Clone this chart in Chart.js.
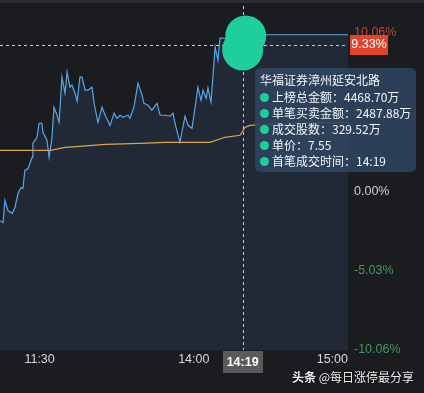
<!DOCTYPE html>
<html>
<head>
<meta charset="utf-8">
<script src="https://cdn.jsdelivr.net/npm/chart.js@4"></script>
<style>
  html, body { margin: 0; padding: 0; background: #1b1c20; }
  #wrap { position: relative; width: 424px; height: 393px; overflow: hidden; }
  #topbar { position: absolute; left: 0; top: 0; width: 424px; height: 3px; background: #2a2c31; }
  #tip {
    position: absolute; box-sizing: border-box; width: 161px;
    background: rgba(47, 68, 95, 0.9); border-radius: 5px;
    padding: 4px 5px 3px 5px; color: #f4f6f8;
    font: 12px "Noto Sans CJK SC", sans-serif; line-height: 16px; white-space: nowrap;
  }
  #tip .title { margin-bottom: 1px; }
  #tip .row { display: flex; align-items: center; }
  #tip .dot { width: 9px; height: 9px; border-radius: 50%; background: #1fcf9b; margin-right: 3px; flex: none; }
  #mark {
    position: absolute; right: 10px; top: 369px; color: #eeeeee; white-space: nowrap;
    font: 12px "Noto Sans CJK SC", sans-serif; line-height: 16px;
    text-shadow: 0 0 2px #000;
  }
  #mark b { font-weight: bold; }
</style>
</head>
<body>
<div id="wrap">
  <canvas id="chart" width="424" height="393"></canvas>
  <div id="topbar"></div>
  <div id="tip"></div>
  <div id="mark"><b>头条</b> @每日涨停最分享</div>
</div>
<script>
// minutes since 9:30 open, lunch break removed (11:30 = 13:00 = 120)
const priceMin = [104.6, 105.8, 106.5, 107.7, 109.3, 110.4, 111.6, 112.8, 113.5, 114.3, 115.5, 117.1, 117.4, 119.0, 119.8,
  120.9, 121.3, 122.9, 123.7, 124.8, 125.6, 126.8, 127.6, 128.7, 129.9, 130.7, 131.8, 132.6, 133.8, 134.6, 135.7,
  136.5, 137.7, 138.8, 140.4, 141.2, 142.7, 144.3, 145.5, 147.4, 149.0, 150.1, 151.3, 152.5, 154.4, 155.2, 156.7,
  158.3, 159.9, 160.6, 162.2, 163.7, 165.7, 166.9, 168.8, 170.7, 171.9, 172.7, 174.6, 176.6, 177.8, 179.3, 180.5,
  181.6, 182.8, 183.6, 184.8, 185.5, 186.7, 188.3, 189.4, 190.2, 191.4, 199, 201.9, 240];
const pricePct = [-1.85, -1.97, -0.57, -1.21, -1.40, -1.02, -0.13, 0.25, 0.19, 1.34, 1.46, 2.16, 3.06, 3.44, 4.33,
  4.33, 3.76, 3.25, 2.16, 3.37, 5.35, 4.84, 4.39, 7.26, 6.24, 7.58, 6.62, 6.75, 6.24, 5.73, 7.26,
  7.26, 6.43, 6.43, 6.62, 5.60, 4.39, 5.35, 4.84, 4.20, 4.97, 4.65, 4.84, 4.71, 4.84, 4.65, 5.35,
  6.88, 6.11, 5.60, 5.48, 5.16, 5.60, 4.84, 4.84, 4.78, 4.97, 4.33, 3.12, 4.78, 4.20, 4.01, 5.35,
  6.62, 5.79, 6.43, 5.92, 6.56, 5.67, 9.17, 8.34, 9.74, 9.74, 9.33, 9.95, 9.95];

const avgMin = [104.6, 117.4, 124.1, 128.0, 129.9, 135.7, 145.5, 159.1, 168.8, 186.3, 192.1, 198.0, 199.9, 201.9, 207.7, 221.3, 240];
const avgPct = [2.61, 2.61, 2.61, 2.74, 2.80, 2.87, 2.99, 3.06, 3.12, 3.12, 3.44, 3.57, 4.07, 4.20, 4.27, 4.33, 4.39];

// the highlighted trade marker (two overlapping blobs)
const dotMin = [199, 200.2];
const dotPct = [8.98, 9.87];

const yTicks = [-10.06, -5.03, 0, 5.03, 10.06];
const xTicks = [120, 180, 240];
const xTickLabels = ['11:30', '14:00', '15:00'];

const cursorMin = 199;
const cursorPct = 9.33;
const cursorTime = '14:19';

const tipTitle = '华福证券漳州延安北路';
const tipNames = ['上榜总金额', '单笔买卖金额', '成交股数', '单价', '首笔成交时间'];
const tipValues = ['4468.70万', '2487.88万', '329.52万', '7.55', '14:19'];

const xMin = 104.6, xMax = 240;
const yMin = -10.06, yMax = 12.155;

const toPoints = (xs, ys) => xs.map((x, i) => ({ x: x, y: ys[i] }));

const cursorPlugin = {
  id: 'cursor',
  afterDatasetDraw(chart, args) {
    // draw the crosshair after the lines, under the marker
    if (args.meta.order !== 1) return;
    const { ctx, chartArea: a, scales: { x, y } } = chart;
    const px = Math.round(x.getPixelForValue(cursorMin)) + 0.5;
    const py = Math.round(y.getPixelForValue(cursorPct)) + 0.5;
    ctx.save();
    ctx.strokeStyle = '#c6cad1';
    ctx.lineWidth = 1;
    ctx.setLineDash([3, 3]);
    ctx.beginPath();
    ctx.moveTo(a.left, py);
    ctx.lineTo(a.right, py);
    ctx.moveTo(px, a.top);
    ctx.lineTo(px, a.bottom);
    ctx.stroke();
    ctx.restore();
  },
  afterDraw(chart) {
    const { ctx, chartArea: a, scales: { x, y } } = chart;
    const px = x.getPixelForValue(cursorMin);
    const py = y.getPixelForValue(cursorPct);
    ctx.save();
    ctx.font = 'bold 12.5px "Liberation Sans"';
    ctx.textAlign = 'center';
    ctx.textBaseline = 'middle';
    // time label
    ctx.fillStyle = '#5a5a5a';
    ctx.fillRect(Math.round(px - 20), a.bottom + 1, 40, 22);
    ctx.fillStyle = '#ffffff';
    ctx.fillText(cursorTime, px, a.bottom + 12.5);
    // price label
    ctx.fillStyle = '#e0462f';
    ctx.fillRect(a.right + 2, Math.round(py - 10), 38, 20);
    ctx.fillStyle = '#ffffff';
    ctx.font = '12.5px "Liberation Sans"';
    ctx.fillText(cursorPct.toFixed(2) + '%', a.right + 21, py + 0.5);
    ctx.restore();
  }
};

const chart = new Chart(document.getElementById('chart'), {
  type: 'line',
  data: {
    datasets: [
      {
        label: 'marker',
        data: toPoints(dotMin, dotPct),
        showLine: false,
        pointRadius: 20.5,
        pointBackgroundColor: '#1fcf9b',
        pointBorderWidth: 0,
        clip: false,
        order: 0
      },
      {
        label: 'avg',
        data: toPoints(avgMin, avgPct),
        borderColor: '#dba64c',
        borderWidth: 1.2,
        pointRadius: 0,
        tension: 0,
        order: 1
      },
      {
        label: 'price',
        data: toPoints(priceMin, pricePct),
        borderColor: '#58a6e8',
        borderWidth: 1.2,
        pointRadius: 0,
        tension: 0,
        fill: 'start',
        backgroundColor: '#212836',
        order: 2
      }
    ]
  },
  options: {
    responsive: false,
    animation: false,
    devicePixelRatio: 1,
    events: [],
    layout: { padding: 0, autoPadding: false },
    plugins: { legend: { display: false }, tooltip: { enabled: false } },
    scales: {
      x: {
        type: 'linear',
        min: xMin,
        max: xMax,
        grid: { display: false, drawTicks: false },
        border: { display: false },
        afterBuildTicks: s => { s.ticks = [{ value: xMin }].concat(xTicks.map(v => ({ value: v }))); },
        afterFit: s => { s.height = 43; s.paddingLeft = 0; s.paddingRight = 0; },
        ticks: {
          align: 'inner',
          autoSkip: false,
          maxRotation: 0,
          padding: 2,
          color: '#d8d8d8',
          font: { family: 'Liberation Sans', size: 12.5 },
          callback: v => {
            const i = xTicks.indexOf(v);
            return i < 0 ? '' : xTickLabels[i];
          }
        }
      },
      y: {
        position: 'right',
        min: yMin,
        max: yMax,
        grid: { display: false, drawTicks: false },
        border: { display: false },
        afterBuildTicks: s => { s.ticks = yTicks.map(v => ({ value: v })); },
        afterFit: s => { s.width = 76; s.paddingTop = 0; s.paddingBottom = 0; },
        ticks: {
          padding: 6,
          font: { family: 'Liberation Sans', size: 12.5 },
          color: c => c.tick.value > 0 ? '#c9432f' : (c.tick.value < 0 ? '#3f9a5c' : '#cfcfcf'),
          callback: v => v.toFixed(2) + '%'
        }
      }
    }
  },
  plugins: [cursorPlugin]
});

// info box next to the marker
const tip = document.getElementById('tip');
let html = '<div class="title">' + tipTitle + '</div>';
tipNames.forEach((n, i) => {
  html += '<div class="row"><span class="dot"></span>' + n + '：' + tipValues[i] + '</div>';
});
tip.innerHTML = html;
const cx = chart.scales.x.getPixelForValue(cursorMin);
const cy = chart.scales.y.getPixelForValue(cursorPct);
tip.style.left = Math.round(cx + 12) + 'px';
tip.style.top = Math.round(cy + 23) + 'px';
</script>
</body>
</html>
